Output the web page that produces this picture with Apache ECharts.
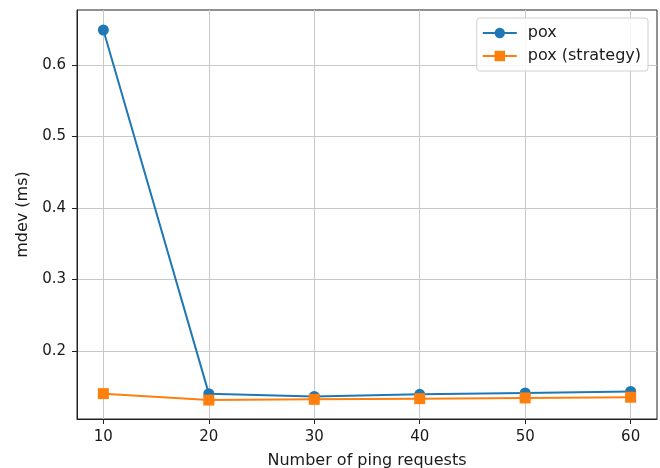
<!DOCTYPE html>
<html>
<head>
<meta charset="utf-8">
<script src="https://cdn.jsdelivr.net/npm/echarts@6/dist/echarts.min.js"></script>
<style>
  html, body { margin: 0; padding: 0; background: #fff; }
  #chart { width: 660px; height: 468px; }
</style>
</head>
<body>
<div id="chart"></div>
<script>
// ping requests vs mdev
const requests = [10, 20, 30, 40, 50, 60]
const poxValues = [0.649, 0.140, 0.136, 0.139, 0.141, 0.143]
const strategyValues = [0.140, 0.131, 0.132, 0.133, 0.134, 0.135]
const xTicks = [10, 20, 30, 40, 50, 60]
const yTicks = [0.2, 0.3, 0.4, 0.5, 0.6]

const font = '"DejaVu Sans"'
const myChart = echarts.init(document.getElementById('chart'))

const option = {
    animation: false,
    textStyle: { fontFamily: font },
    grid: {
        left: 77, right: 3, top: 10, bottom: 49,
        outerBoundsMode: 'none',
        containLabel: false,
        show: true, borderColor: '#222', borderWidth: 1
    },
    legend: {
        right: 12, top: 18,
        orient: 'vertical',
        itemWidth: 34, itemHeight: 13, itemGap: 7,
        padding: [7, 7, 7, 5],
        backgroundColor: 'rgba(255,255,255,0.85)',
        borderColor: '#d0d0d0', borderWidth: 1, borderRadius: 3,
        textStyle: { fontFamily: font, fontSize: 16, color: '#1a1a1a', padding: [0, 0, 0, 6] },
        data: ['pox', 'pox (strategy)']
    },
    xAxis: {
        type: 'value',
        min: 7.5, max: 62.5,
        name: 'Number of ping requests',
        nameLocation: 'middle', nameGap: 34,
        nameTextStyle: { fontFamily: font, fontSize: 16, color: '#1a1a1a' },
        axisLine: { lineStyle: { color: '#222' } },
        axisTick: { customValues: xTicks, length: 5, lineStyle: { color: '#222' } },
        axisLabel: { customValues: xTicks, fontFamily: font, fontSize: 15, color: '#1a1a1a', margin: 11 },
        splitLine: { show: true, lineStyle: { color: '#c8c8c8', width: 1 } }
    },
    yAxis: {
        type: 'value',
        min: 0.1045, max: 0.677,
        name: 'mdev (ms)',
        nameLocation: 'middle', nameGap: 45, nameRotate: 90,
        nameTextStyle: { fontFamily: font, fontSize: 16, color: '#1a1a1a' },
        axisLine: { show: true, lineStyle: { color: '#222' } },
        axisTick: { show: true, customValues: yTicks, length: 5, lineStyle: { color: '#222' } },
        axisLabel: {
            customValues: yTicks, fontFamily: font, fontSize: 15, color: '#1a1a1a', margin: 11,
            formatter: v => v.toFixed(1)
        },
        splitLine: { show: true, lineStyle: { color: '#c8c8c8', width: 1 } }
    },
    series: [
        {
            name: 'pox',
            type: 'line',
            data: requests.map((x, i) => [x, poxValues[i]]),
            symbol: 'circle', symbolSize: 11,
            itemStyle: { color: '#1f77b4' },
            lineStyle: { color: '#1f77b4', width: 2 }
        },
        {
            name: 'pox (strategy)',
            type: 'line',
            data: requests.map((x, i) => [x, strategyValues[i]]),
            symbol: 'rect', symbolSize: 11,
            itemStyle: { color: '#ff7f0e' },
            lineStyle: { color: '#ff7f0e', width: 2 }
        }
    ]
}

myChart.setOption(option)
</script>
</body>
</html>
